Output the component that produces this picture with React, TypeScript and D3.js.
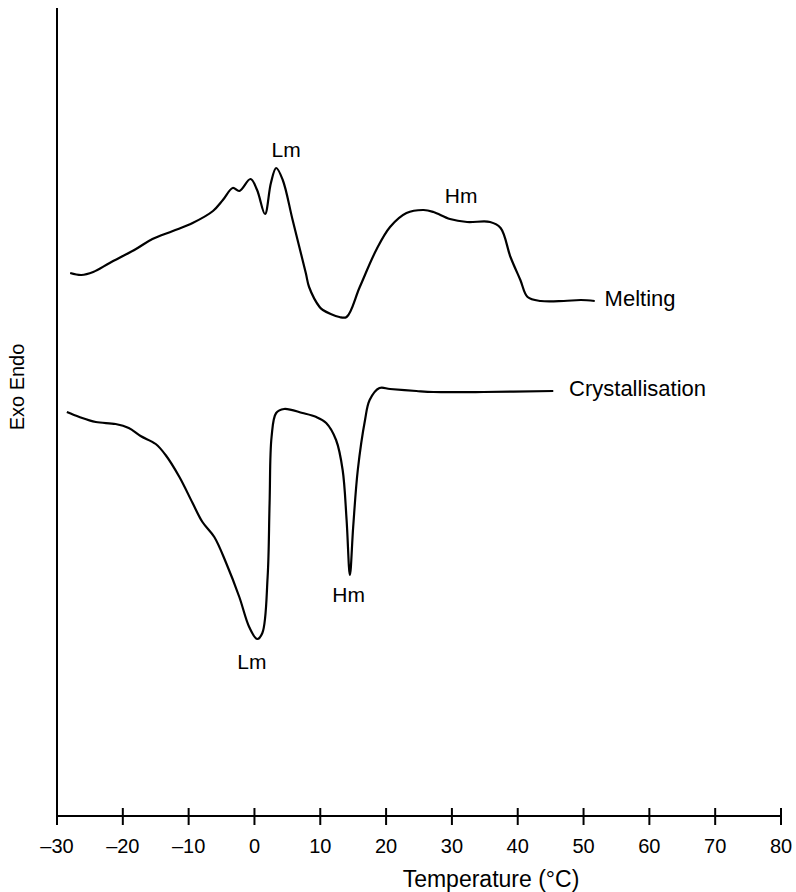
import React from "react";
import * as d3 from "d3";

// DSC traces: temperature (°C) and heat flow (arbitrary units, endo up)
const meltingTemp = [
  -28.0, -26.3, -24.5, -22.0, -18.0, -15.5, -12.4, -9.4, -6.3, -4.8, -3.3, -2.3,
  -0.6, 0.4, 1.6, 2.5, 3.3, 4.3, 5.8, 7.8, 8.3, 9.9, 10.4, 12.9, 14.0, 16.0, 18.5,
  20.6, 23.1, 25.7, 27.2, 29.7, 32.3, 35.8, 37.4, 38.9, 40.4, 41.5, 43.5, 47.0,
  49.6, 51.7,
];
const meltingFlow = [
  54.3, 54.1, 54.4, 55.3, 56.7, 57.7, 58.5, 59.3, 60.5, 61.6, 62.8, 62.5, 63.7,
  62.6, 60.2, 63.3, 64.8, 63.6, 59.6, 54.3, 52.9, 50.9, 50.6, 49.9, 49.9, 52.9,
  56.6, 58.9, 60.3, 60.6, 60.4, 59.7, 59.4, 59.4, 58.8, 55.9, 53.6, 51.9, 51.5,
  51.5, 51.6, 51.5,
];

const crystTemp = [
  -28.5, -26.6, -24.1, -21.1, -19.1, -17.3, -15.0, -13.5, -11.4, -9.4, -7.9,
  -6.1, -4.3, -2.3, -0.8, 0.4, 1.2, 2.0, 2.3, 2.6, 3.3, 4.5, 7.3, 9.4, 10.9,
  12.4, 13.4, 14.0, 14.5, 15.0, 15.7, 16.8, 17.5, 19.0, 20.6, 24.6, 27.2, 34.8,
  45.4,
];
const crystFlow = [
  40.4, 39.9, 39.4, 39.2, 38.8, 38.0, 37.2, 36.1, 33.9, 31.3, 29.4, 27.9, 25.3,
  21.9, 18.9, 17.7, 18.3, 23.9, 31.3, 37.9, 40.3, 40.7, 40.3, 39.9, 39.3, 37.6,
  34.6, 29.6, 24.1, 28.9, 34.6, 39.6, 41.6, 42.8, 42.7, 42.5, 42.4, 42.4, 42.5,
];

const xTicks = [-30, -20, -10, 0, 10, 20, 30, 40, 50, 60, 70, 80];

// Peak annotations: text, temperature, heat flow at the text baseline
const peakLabels = ["Lm", "Hm", "Lm", "Hm"];
const peakLabelTemp = [4.8, 31.4, -0.4, 14.3];
const peakLabelFlow = [65.9, 61.3, 14.7, 21.4];

const curveNames = ["Melting", "Crystallisation"];
const curveNameTemp = [53.2, 47.8];
const curveNameFlow = [51.0, 42.0];

const W = 796;
const H = 892;
const FONT = "'Liberation Sans', Arial, Helvetica, sans-serif";

export default function App() {
  const x = d3.scaleLinear().domain([-30, 80]).range([57, 781]);
  const y = d3.scaleLinear().domain([0, 80.8]).range([816, 8]);

  const line = d3
    .line<[number, number]>()
    .x((d) => x(d[0]))
    .y((d) => y(d[1]))
    .curve(d3.curveCatmullRom.alpha(0.5));

  const melting = meltingTemp.map((t, i) => [t, meltingFlow[i]] as [number, number]);
  const cryst = crystTemp.map((t, i) => [t, crystFlow[i]] as [number, number]);

  const x0 = x.range()[0];
  const x1 = x.range()[1];
  const yBase = y(0);

  return (
    <svg
      width={W}
      height={H}
      style={{ position: "absolute", left: 0, top: 0, background: "#fff" }}
      fontFamily={FONT}
    >
      <rect width={W} height={H} fill="#fff" />
      {/* axes */}
      <line x1={x0} x2={x0} y1={y.range()[1]} y2={yBase} stroke="#000" strokeWidth={2} />
      <line x1={x0} x2={x1} y1={yBase} y2={yBase} stroke="#000" strokeWidth={2} />
      {xTicks.map((t) => (
        <g key={t}>
          <line x1={x(t)} x2={x(t)} y1={yBase - 8} y2={yBase + 9} stroke="#000" strokeWidth={2} />
          <text x={x(t)} y={853} textAnchor="middle" fontSize={20} fill="#000">
            {t < 0 ? `\u2013${Math.abs(t)}` : `${t}`}
          </text>
        </g>
      ))}
      <text x={491} y={887} textAnchor="middle" fontSize={23} fill="#000">
        Temperature (°C)
      </text>
      <text
        transform={`translate(24, 387) rotate(-90)`}
        textAnchor="middle"
        fontSize={20}
        fill="#000"
      >
        Exo Endo
      </text>

      {/* traces */}
      <path d={line(melting) ?? ""} fill="none" stroke="#000" strokeWidth={2.2} strokeLinejoin="round" />
      <path d={line(cryst) ?? ""} fill="none" stroke="#000" strokeWidth={2.2} strokeLinejoin="round" />

      {peakLabels.map((s, i) => (
        <text
          key={i}
          x={x(peakLabelTemp[i])}
          y={y(peakLabelFlow[i])}
          textAnchor="middle"
          fontSize={21}
          fill="#000"
        >
          {s}
        </text>
      ))}
      {curveNames.map((s, i) => (
        <text key={s} x={x(curveNameTemp[i])} y={y(curveNameFlow[i])} fontSize={22} fill="#000">
          {s}
        </text>
      ))}
    </svg>
  );
}
